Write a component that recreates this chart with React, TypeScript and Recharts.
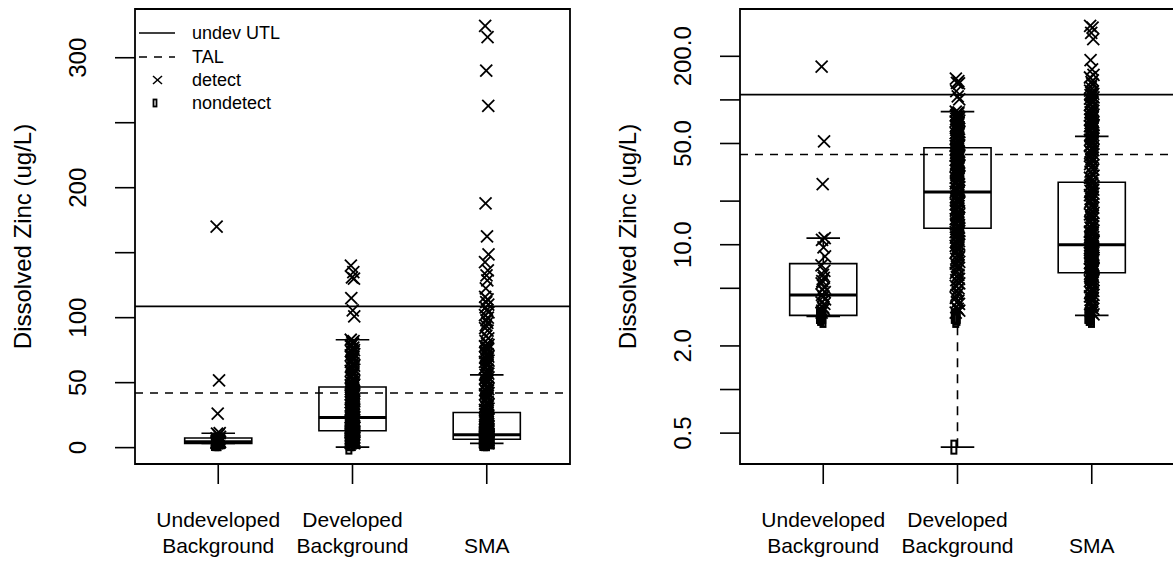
import React from 'react';
import {
  ComposedChart,
  Scatter,
  XAxis,
  YAxis,
  ReferenceArea,
  ReferenceLine,
  Legend,
  Label,
} from 'recharts';

const FONT = '"Liberation Sans", Arial, Helvetica, sans-serif';

// groups on the x axis
const GROUPS = ['Undeveloped\nBackground', 'Developed\nBackground', 'SMA'];
const GROUP_POS = [1, 2, 3];

// boxplot stats (ug/L)
const WHISKER_LOW = [3.2, 0.4, 3.25];
const Q1 = [3.25, 13.0, 6.4];
const MEDIAN = [4.5, 23.1, 10.0];
const Q3 = [7.4, 46.7, 27.0];
const WHISKER_HIGH = [11.1, 83, 56];

// reference levels
const UTL = 108.7;
const TAL = 42;

// individual samples
const UNDEV_DETECT = [170, 51.8, 26.2, 11.1, 10.8, 9.6, 8.3, 7.2, 6.6, 6.2, 5.9, 5.6, 5.4, 5.1, 4.9, 4.7, 4.5, 4.4, 4.2, 4.0, 3.9, 3.7, 3.6, 3.5, 3.4];
const UNDEV_ND = [3.2, 3.2, 3.1, 3.2, 3.3, 3.2, 3.0, 3.2, 3.2, 3.1];

const DEV_DETECT = [140, 135, 131, 130, 115, 105.6, 101, 83, 82, 81, 80, 79, 78, 77, 76, 75, 74, 73, 72, 71, 70, 69, 68, 67, 66, 65, 64, 63, 62, 61, 60, 59, 58, 57, 56, 55, 54, 53, 52, 51, 50, 49, 48.5, 48, 47.5, 47, 46, 45.5, 45, 44.5, 44, 43.5, 43, 42, 41.5, 41, 40.5, 40, 39.5, 39, 38.5, 38, 37.5, 37, 36.5, 36, 35.5, 35, 34.5, 34, 33.5, 33, 32.5, 32, 31.5, 31, 30.5, 30, 29.5, 29, 28.5, 28, 27.5, 27, 26.5, 26, 25.5, 25, 24.5, 24, 23.5, 23.2, 22.8, 22.5, 22, 21.5, 21.2, 21, 20.5, 20.2, 20, 19.8, 19.5, 19, 18.5, 18.2, 18, 17.6, 17.2, 16.8, 16.4, 16.2, 16, 15.6, 15.3, 15, 14.9, 14.7, 14.4, 14.1, 13.8, 13.5, 13.3, 13.1, 12.8, 12.6, 12.4, 12.2, 12, 11.8, 11.6, 11.4, 11.2, 11.0, 10.8, 10.6, 10.4, 10.2, 10, 9.8, 9.6, 9.4, 9.2, 9.0, 8.8, 8.6, 8.4, 8.2, 8, 7.8, 7.6, 7.4, 7.2, 7.0, 6.8, 6.6, 6.4, 6.2, 6, 5.8, 5.7, 5.5, 5.4, 5.2, 5.0, 4.8, 4.6, 4.5, 4.3, 4.1, 4.0, 3.9, 3.7, 3.6, 3.5, 3.4];
const DEV_ND = [0.4, 3.2, 3.2, 3.1, 3.2, 3.0, 3.2];

const SMA_DETECT = [324.5, 315.8, 290, 263, 188, 162.5, 148.7, 142.8, 136.4, 132.5, 128.7, 122.5, 116, 114, 112, 110, 108, 106, 104, 102, 100, 98, 96, 94, 92, 90, 86, 84, 82, 80, 79, 78, 77, 76, 75, 74, 73, 72, 71, 70, 69, 68, 67, 66, 65, 64, 63, 62, 61, 60, 58, 57, 56, 55, 54, 53, 52, 51, 50, 49, 48, 47, 46, 45, 44, 43, 42, 41, 40, 39, 38, 37, 36, 35, 34, 33, 32, 31, 30, 29, 28, 27.5, 26.5, 26, 25.5, 25, 24.5, 24, 23.5, 23, 22.5, 22, 21.5, 21, 20.5, 20, 19.5, 19, 18.5, 18, 17.5, 17, 16.6, 16.2, 15.8, 15.4, 15, 14.6, 14.3, 14, 13.7, 13.4, 13.1, 12.8, 12.5, 12.3, 12.1, 11.9, 11.7, 11.5, 11.3, 11.1, 10.9, 10.8, 10.7, 10.6, 10.5, 10.4, 10.3, 10.2, 10.1, 10.0, 9.9, 9.8, 9.7, 9.6, 9.5, 9.4, 9.3, 9.2, 9.1, 9.0, 8.9, 8.8, 8.7, 8.6, 8.5, 8.4, 8.3, 8.2, 8.1, 8.0, 7.9, 7.8, 7.7, 7.6, 7.5, 7.4, 7.3, 7.2, 7.1, 7.0, 6.9, 6.8, 6.7, 6.6, 6.5, 6.4, 6.3, 6.2, 6.1, 6.0, 5.9, 5.8, 5.7, 5.6, 5.5, 5.4, 5.3, 5.2, 5.1, 5.0, 4.9, 4.8, 4.7, 4.6, 4.5, 4.4, 4.3, 4.2, 4.1, 4.0, 3.9, 3.8, 3.7, 3.6, 3.5, 3.4, 3.3];
const SMA_ND = [3.2, 3.2, 3.1, 3.2, 3.3, 3.2, 3.0, 3.2, 3.2, 3.1];

// small horizontal jitter (x units)
const JITTER = [-0.012, 0.006, -0.004, 0.011, -0.009, 0.002, 0.013, -0.013, 0.008, -0.002, 0.004, -0.007];

// axis settings
const X_DOMAIN = [0.38, 3.62];
const LIN_DOMAIN = [-12.6, 337.5];
const LIN_TICKS = [0, 50, 100, 150, 200, 250, 300];
const LIN_LABELS: Record<number, string> = { 0: '0', 50: '50', 100: '100', 200: '200', 300: '300' };
const LOG_DOMAIN = [0.306, 424.3];
const LOG_TICKS = [0.5, 1, 2, 5, 10, 20, 50, 100, 200];
const LOG_LABELS: Record<number, string> = { 0.5: '0.5', 2: '2.0', 10: '10.0', 50: '50.0', 200: '200.0' };

const toPoints = (vals: number[], g: number) =>
  vals.map((y, i) => ({ x: g + JITTER[i % JITTER.length], y }));

const detectSets = [UNDEV_DETECT, DEV_DETECT, SMA_DETECT];
const ndSets = [UNDEV_ND, DEV_ND, SMA_ND];

const XMark = (p: any) => {
  const { cx, cy } = p;
  if (cx == null || cy == null) return <g />;
  const s = 6;
  return (
    <g stroke="#000" strokeWidth={1.8}>
      <line x1={cx - s} y1={cy - s} x2={cx + s} y2={cy + s} />
      <line x1={cx - s} y1={cy + s} x2={cx + s} y2={cy - s} />
    </g>
  );
};

const NdMark = (p: any) => {
  const { cx, cy } = p;
  if (cx == null || cy == null) return <g />;
  return <rect x={cx - 2.5} y={cy - 6.5} width={5} height={13} fill="none" stroke="#000" strokeWidth={2} />;
};

const YTick = (props: any) => {
  const { x, y, payload, log } = props;
  const label = log ? LOG_LABELS[payload.value] : LIN_LABELS[payload.value];
  if (!label) return <g />;
  const tx = x - 37;
  return (
    <text
      x={tx}
      y={y}
      transform={`rotate(-90 ${tx} ${y})`}
      textAnchor="middle"
      dominantBaseline="central"
      fontFamily={FONT}
      fontSize={24}
      fill="#000"
    >
      {label}
    </text>
  );
};

const XTick = (props: any) => {
  const { x, y, payload } = props;
  const lines = GROUPS[Math.round(payload.value) - 1].split('\n');
  const n = lines.length;
  return (
    <g>
      {lines.map((t, i) => (
        <text
          key={i}
          x={x}
          y={y + 69 - (n - 1 - i) * 26}
          textAnchor="middle"
          fontFamily={FONT}
          fontSize={21}
          fill="#000"
        >
          {t}
        </text>
      ))}
    </g>
  );
};

const YTitle = (props: any) => {
  const { viewBox } = props;
  const tx = viewBox.x + viewBox.width - 113;
  const ty = viewBox.y + viewBox.height / 2;
  return (
    <text
      x={tx}
      y={ty}
      transform={`rotate(-90 ${tx} ${ty})`}
      textAnchor="middle"
      dominantBaseline="central"
      fontFamily={FONT}
      fontSize={24}
      fill="#000"
    >
      Dissolved Zinc (ug/L)
    </text>
  );
};

const LegendBox = () => (
  <svg width={220} height={110} style={{ display: 'block' }}>
    <g fontFamily={FONT} fontSize={18} fill="#000">
      <line x1={4} y1={24} x2={40} y2={24} stroke="#000" strokeWidth={1.6} />
      <text x={57} y={24} dominantBaseline="central">undev UTL</text>
      <line x1={4} y1={48} x2={40} y2={48} stroke="#000" strokeWidth={1.6} strokeDasharray="8 7" />
      <text x={57} y={48} dominantBaseline="central">TAL</text>
      <g stroke="#000" strokeWidth={1.5}>
        <line x1={18} y1={67} x2={27} y2={75} />
        <line x1={18} y1={75} x2={27} y2={67} />
      </g>
      <text x={57} y={71} dominantBaseline="central">detect</text>
      <rect x={18.5} y={90.5} width={3} height={7} fill="none" stroke="#000" strokeWidth={1.8} />
      <text x={57} y={94} dominantBaseline="central">nondetect</text>
    </g>
  </svg>
);

const Panel = ({ log }: { log: boolean }) => {
  const yDomain = log ? LOG_DOMAIN : LIN_DOMAIN;
  return (
    <ComposedChart width={585} height={563} margin={{ top: 9, right: 15, bottom: 0, left: 0 }}>
      <XAxis
        type="number"
        dataKey="x"
        domain={X_DOMAIN}
        ticks={GROUP_POS}
        allowDataOverflow
        interval={0}
        height={99}
        tickSize={20}
        tickMargin={0}
        axisLine={false}
        tickLine={{ stroke: '#000', strokeWidth: 1.6 }}
        tick={<XTick />}
      />
      <YAxis
        type="number"
        dataKey="y"
        scale={log ? 'log' : 'linear'}
        domain={yDomain}
        ticks={log ? LOG_TICKS : LIN_TICKS}
        allowDataOverflow
        interval={0}
        width={135}
        tickSize={20}
        tickMargin={0}
        axisLine={false}
        tickLine={{ stroke: '#000', strokeWidth: 1.6 }}
        tick={<YTick log={log} />}
      >
        <Label content={<YTitle />} />
      </YAxis>

      {/* plot frame */}
      <ReferenceArea
        x1={X_DOMAIN[0]}
        x2={X_DOMAIN[1]}
        y1={yDomain[0]}
        y2={yDomain[1]}
        fill="none"
        fillOpacity={0}
        stroke="#000"
        strokeWidth={1.8}
        ifOverflow="visible"
      />

      {/* boxes */}
      {GROUP_POS.map((g, i) => (
        <ReferenceArea
          key={`box-${i}`}
          x1={g - 0.25}
          x2={g + 0.25}
          y1={Q1[i]}
          y2={Q3[i]}
          fill="none"
          fillOpacity={0}
          stroke="#000"
          strokeWidth={1.6}
          ifOverflow="visible"
        />
      ))}
      {GROUP_POS.map((g, i) => (
        <ReferenceLine
          key={`wl-${i}`}
          segment={[{ x: g, y: WHISKER_LOW[i] }, { x: g, y: Q1[i] }]}
          stroke="#000"
          strokeWidth={1.6}
          strokeDasharray="9 7"
          ifOverflow="visible"
        />
      ))}
      {GROUP_POS.map((g, i) => (
        <ReferenceLine
          key={`wh-${i}`}
          segment={[{ x: g, y: Q3[i] }, { x: g, y: WHISKER_HIGH[i] }]}
          stroke="#000"
          strokeWidth={1.6}
          strokeDasharray="9 7"
          ifOverflow="visible"
        />
      ))}
      {GROUP_POS.map((g, i) => (
        <ReferenceLine
          key={`cl-${i}`}
          segment={[{ x: g - 0.125, y: WHISKER_LOW[i] }, { x: g + 0.125, y: WHISKER_LOW[i] }]}
          stroke="#000"
          strokeWidth={1.6}
          ifOverflow="visible"
        />
      ))}
      {GROUP_POS.map((g, i) => (
        <ReferenceLine
          key={`ch-${i}`}
          segment={[{ x: g - 0.125, y: WHISKER_HIGH[i] }, { x: g + 0.125, y: WHISKER_HIGH[i] }]}
          stroke="#000"
          strokeWidth={1.6}
          ifOverflow="visible"
        />
      ))}
      {GROUP_POS.map((g, i) => (
        <ReferenceLine
          key={`md-${i}`}
          segment={[{ x: g - 0.25, y: MEDIAN[i] }, { x: g + 0.25, y: MEDIAN[i] }]}
          stroke="#000"
          strokeWidth={3}
          ifOverflow="visible"
        />
      ))}

      <ReferenceLine y={UTL} stroke="#000" strokeWidth={1.6} />
      <ReferenceLine y={TAL} stroke="#000" strokeWidth={1.6} strokeDasharray="8 7" />

      {detectSets.map((vals, i) => (
        <Scatter
          key={`det-${i}`}
          data={toPoints(vals, GROUP_POS[i])}
          dataKey="y"
          shape={XMark}
          isAnimationActive={false}
        />
      ))}
      {ndSets.map((vals, i) => (
        <Scatter
          key={`nd-${i}`}
          data={toPoints(vals, GROUP_POS[i] - 0.015)}
          dataKey="y"
          shape={NdMark}
          isAnimationActive={false}
        />
      ))}

      {!log && (
        <Legend
          layout="horizontal"
          verticalAlign="middle"
          align="center"
          content={<LegendBox />}
          wrapperStyle={{ left: 135, top: 9, width: 220, height: 110 }}
        />
      )}
    </ComposedChart>
  );
};

export default function App() {
  return (
    <div
      style={{
        position: 'absolute',
        left: 0,
        top: 0,
        width: 1173,
        height: 563,
        overflow: 'hidden',
        background: '#fff',
      }}
    >
      <div style={{ position: 'absolute', left: 0, top: 0 }}>
        <Panel log={false} />
      </div>
      <div style={{ position: 'absolute', left: 605, top: 0 }}>
        <Panel log />
      </div>
    </div>
  );
}
